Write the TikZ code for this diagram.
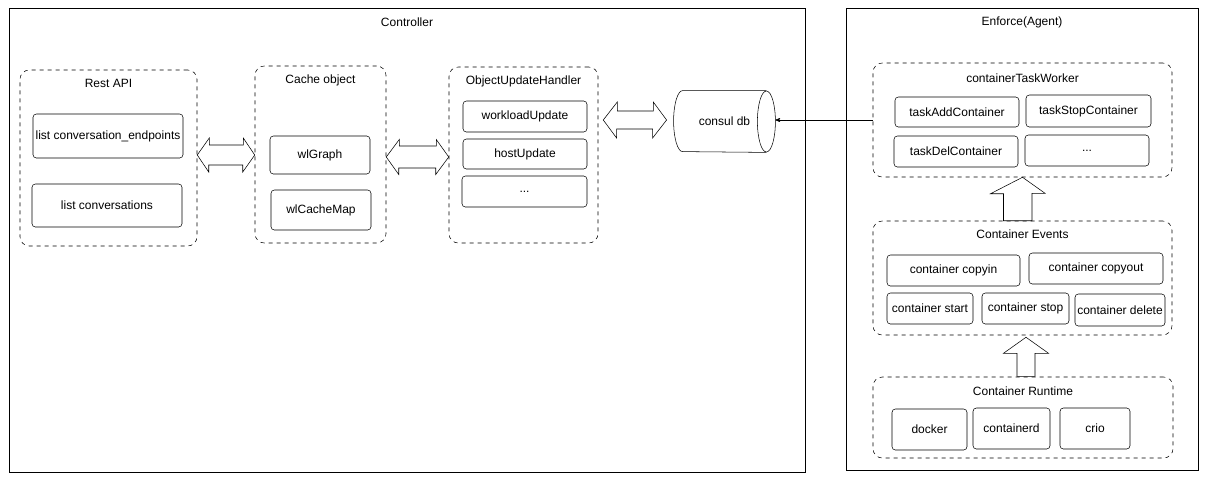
\documentclass[tikz,border=0pt]{standalone}
\usepackage{fontspec}
\setmainfont{Liberation Sans}
\usetikzlibrary{arrows,calc}

\begin{document}
\begin{tikzpicture}[x=0.75pt,y=-0.75pt,>=stealth',semithick,font=\fontsize{9}{11}\selectfont,
  sz/.style 2 args={minimum width=#1*0.75pt,minimum height=#2*0.75pt},
  outer/.style={draw,thin,inner sep=0pt},
  grp/.style={draw,thin,dashed,rounded corners=7pt,inner sep=0pt},
  box/.style={draw,thin,rounded corners=2.5pt,inner sep=0pt},
  blk/.style={draw,thin,fill=white,line join=miter}]
\useasboundingbox (0,0) rectangle (1207,483);

% controller side
\node[outer,sz={796}{464}] (ctrl) at (407,240) {};
\node (ctrlt) at (407,22) {Controller};

\node[grp,sz={177}{176}] (rest) at (108.5,158) {};
\node (restt) at (108.5,83) {Rest API};
\node[box,sz={150}{44}] (ep) at (108,136) {list conversation\_endpoints};
\node[box,sz={150}{43}] (conv) at (107,205.5) {list conversations};

\node[grp,sz={131}{177}] (cache) at (320.5,154.5) {};
\node (cachet) at (320.5,80) {Cache object};
\node[box,sz={100}{38}] (graph) at (320,155) {wlGraph};
\node[box,sz={100}{40}] (cmap) at (321,210) {wlCacheMap};

\node[grp,sz={149}{176}] (ouh) at (523.5,155) {};
\node (ouht) at (523.5,81) {ObjectUpdateHandler};
\node[box,sz={124}{31}] (wlu) at (525,116.5) {workloadUpdate};
\node[box,sz={124}{30}] (hu) at (525,154) {hostUpdate};
\node[box,sz={125}{31}] (more1) at (524.5,191.5) {...};

% consul db as a lying cylinder
\node[sz={101}{61},inner sep=0pt] (consul) at (724.5,121.5) {consul db};
\draw[thin] ([xshift=-6.75pt]consul.north east) -- ([xshift=6.75pt]consul.north west)
  arc[start angle=90,end angle=270,x radius=6.75pt,y radius=22.875pt]
  -- ([xshift=-6.75pt]consul.south east);
\draw[thin] ([xshift=-6.75pt]consul.east) ellipse[x radius=6.75pt,y radius=22.875pt];

% block arrows
\coordinate (a1l) at (rest.east |- 0,155);
\coordinate (a1r) at (cache.west |- 0,155);
\draw[blk] (a1l) -- ++(12,-17) -- ++(0,7) -- ++(34,0) -- ++(0,-7) -- (a1r)
  -- ++(-12,17) -- ++(0,-7) -- ++(-34,0) -- ++(0,7) -- cycle;
\coordinate (a2l) at (cache.east |- 0,157);
\coordinate (a2r) at (ouh.west |- 0,157);
\draw[blk] (a2l) -- ++(13,-17.5) -- ++(0,6.5) -- ++(37,0) -- ++(0,-6.5) -- (a2r)
  -- ++(-13,17.5) -- ++(0,-6.5) -- ++(-37,0) -- ++(0,6.5) -- cycle;
\coordinate (a3l) at ($(ouh.east |- 0,120)+(5,0)$);
\coordinate (a3r) at ($(consul.west)+(-7,-1.5)$);
\draw[blk] (a3l) -- ++(14,-18) -- ++(0,9) -- ++(36,0) -- ++(0,-9) -- (a3r)
  -- ++(-14,18) -- ++(0,-9) -- ++(-36,0) -- ++(0,9) -- cycle;

% agent side
\node[outer,sz={352}{462}] (agent) at (1022,239) {};
\node (agentt) at (1022,22) {Enforce(Agent)};

\node[grp,sz={299}{114}] (tw) at (1022.5,120) {};
\node (twt) at (1022.5,78) {containerTaskWorker};
\node[box,sz={124}{30}] (tadd) at (957,112) {taskAddContainer};
\node[box,sz={125}{32}] (tstop) at (1088.5,111) {taskStopContainer};
\node[box,sz={124}{31}] (tdel) at (956,151.5) {taskDelContainer};
\node[box,sz={124}{31}] (more2) at (1087,150.5) {...};

\node[grp,sz={299}{114}] (ev) at (1022.5,278) {};
\node (evt) at (1022.5,234) {Container Events};
\node[box,sz={133}{31}] (cpin) at (953.5,270.5) {container copyin};
\node[box,sz={134}{31}] (cpout) at (1096,268.5) {container copyout};
\node[box,sz={86}{31}] (cstart) at (930,308.5) {container start};
\node[box,sz={87}{31}] (cstop) at (1025.5,308.5) {container stop};
\node[box,sz={90}{32}] (cdel) at (1120,310) {container delete};

\node[grp,sz={300}{81}] (rt) at (1023,417.5) {};
\node (rtt) at (1023,391) {Container Runtime};
\node[box,sz={75}{41}] (docker) at (929.5,429.5) {docker};
\node[box,sz={77}{41}] (ctrd) at (1011.5,428.5) {containerd};
\node[box,sz={70}{41}] (crio) at (1095,428.5) {crio};

\coordinate (u1t) at (tw.south);
\draw[blk] (u1t) -- ++(22.5,16) -- ++(-13,0) |- (ev.north) -- ++(-9.5,0) -- ++(-9.5,0)
  -- ++(0,-27) -- ++(-13,0) -- cycle;
\coordinate (u2t) at ($(ev.south)+(3.5,2)$);
\draw[blk] (u2t) -- ++(22.5,16) -- ++(-13.5,0) -- ++(0,23) -- ++(-18,0)
  -- ++(0,-23) -- ++(-13.5,0) -- cycle;

\draw[->,thin] (tw.west) -- (tw.west -| consul.east);
\end{tikzpicture}
\end{document}
